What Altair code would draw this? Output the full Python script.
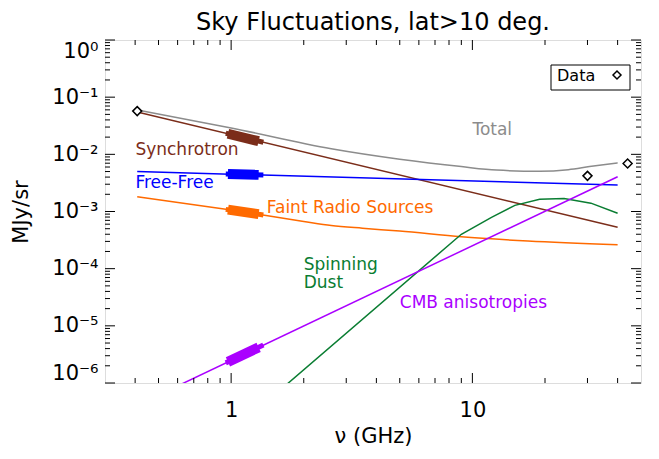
import altair as alt
import pandas as pd

# ---------------- data ----------------
title_text = "Sky Fluctuations, lat>10 deg."

series_names = ["Total", "Synchrotron", "Free-Free", "Faint Radio Sources",
                "Spinning Dust", "CMB anisotropies"]
series_colors = ["#8c8c8c", "#7b2d1a", "#0000ff", "#ff6a00", "#0a7d32", "#aa00ff"]

total_freq = [0.408, 1.0, 2.6, 5.0, 9.0, 12.6, 19.0, 25.0, 30.6, 40.0]
total_val = [0.060, 0.029, 0.0125, 0.0082, 0.0061, 0.0053, 0.00505, 0.0054, 0.0061, 0.0071]

sync_freq = [0.408, 40.0]
sync_val = [0.055, 5.3e-4]

ff_freq = [0.408, 40.0]
ff_val = [5.0e-3, 2.9e-3]

frs_freq = [0.408, 1.0, 2.0, 2.6, 3.5, 5.0, 9.0, 17.0, 40.0]
frs_val = [1.82e-3, 1.06e-3, 6.7e-4, 5.7e-4, 5.1e-4, 4.55e-4, 3.6e-4, 3.05e-4, 2.63e-4]

dust_freq = [1.5, 9.0, 12.0, 15.0, 19.0, 24.0, 31.0, 40.0]
dust_val = [6.0e-7, 4.0e-4, 7.9e-4, 1.28e-3, 1.64e-3, 1.68e-3, 1.40e-3, 9.3e-4]

cmb_freq = [0.408, 40.0]
cmb_val = [4.1e-7, 4.06e-3]

smooth_series = ["Total", "Faint Radio Sources"]

# 1-1.3 GHz band (thick segments) and their thinner tails
band_series = ["Synchrotron", "Free-Free", "Faint Radio Sources", "CMB anisotropies"]
band_freq = [0.97, 1.30]
band_lo = [0.0229, 4.53e-3, 1.08e-3, 2.34e-6]
band_hi = [0.0170, 4.39e-3, 9.0e-4, 4.2e-6]
tail_freq = [0.95, 1.36]
tail_lo = [0.0234, 4.54e-3, 1.09e-3, 2.25e-6]
tail_hi = [0.0163, 4.37e-3, 8.7e-4, 4.6e-6]

data_freq = [0.408, 30.0, 44.0]
data_val = [0.057, 4.2e-3, 6.9e-3]

label_text = ["Synchrotron", "Free-Free", "Faint Radio Sources", "Total",
              "Spinning\nDust", "CMB anisotropies"]
label_series = ["Synchrotron", "Free-Free", "Faint Radio Sources", "Total",
                "Spinning Dust", "CMB anisotropies"]
label_freq = [0.401, 0.401, 1.405, 10.0, 2.0, 5.0]
label_val = [0.0119, 3.11e-3, 1.15e-3, 0.0267, 1.14e-4, 2.5e-5]

x_major = [1, 10]
x_minor = [0.4, 0.5, 0.6, 0.7, 0.8, 0.9, 2, 3, 4, 5, 6, 7, 8, 9, 20, 30, 40]
y_major = [1e-6, 1e-5, 1e-4, 1e-3, 1e-2, 1e-1, 1]
y_minor = [m * d for d in [1e-6, 1e-5, 1e-4, 1e-3, 1e-2, 1e-1] for m in range(2, 10)]

# ---------------- tables ----------------
rows = []
for name, fr, vl in [("Total", total_freq, total_val), ("Synchrotron", sync_freq, sync_val),
                     ("Free-Free", ff_freq, ff_val), ("Faint Radio Sources", frs_freq, frs_val),
                     ("Spinning Dust", dust_freq, dust_val), ("CMB anisotropies", cmb_freq, cmb_val)]:
    for f, v in zip(fr, vl):
        rows.append({"series": name, "freq": f, "val": v})
lines_df = pd.DataFrame(rows)
smooth_df = lines_df[lines_df["series"].isin(smooth_series)]
straight_df = lines_df[~lines_df["series"].isin(smooth_series)]

band_rows, tail_rows = [], []
for i, s in enumerate(band_series):
    band_rows += [{"series": s, "freq": band_freq[0], "val": band_lo[i]},
                  {"series": s, "freq": band_freq[1], "val": band_hi[i]}]
    tail_rows += [{"series": s, "freq": tail_freq[0], "val": tail_lo[i]},
                  {"series": s, "freq": tail_freq[1], "val": tail_hi[i]}]
band_df = pd.DataFrame(band_rows)
tail_df = pd.DataFrame(tail_rows)

data_df = pd.DataFrame({"freq": data_freq, "val": data_val})
label_df = pd.DataFrame({"text": label_text, "series": label_series,
                         "freq": label_freq, "val": label_val})

# ---------------- styling ----------------
FONT = "DejaVu Sans"
W, H = 536, 343
MAJ, MIN = 10, 5

xs = alt.Scale(type="log", domain=[0.3, 50], nice=False)
ys = alt.Scale(type="log", domain=[1e-6, 1], nice=False)
cs = alt.Scale(domain=series_names, range=series_colors)

sup_expr = ("'10' + (datum.value < 0.5 ? '\u207b' : '') + "
            "['\u2070','\u00b9','\u00b2','\u00b3','\u2074','\u2075','\u2076']"
            "[abs(round(log(datum.value)/LN10))]")

ax_x = alt.Axis(orient="bottom", values=x_major, format="~g", ticks=False, tickSize=0,
                grid=False, domain=False,
                labelFont=FONT, labelFontSize=21, labelColor="black", labelPadding=16,
                title="\u03bd (GHz)", titleFont=FONT, titleFontSize=21,
                titleFontWeight="normal", titleColor="black", titlePadding=5)
ax_y = alt.Axis(orient="left", values=y_major, labelExpr=sup_expr, ticks=False, tickSize=0,
                grid=False, domain=False, labelFlush=True,
                labelFont=FONT, labelFontSize=21, labelColor="black", labelPadding=7,
                title="MJy/sr", titleFont=FONT, titleFontSize=21,
                titleFontWeight="normal", titleColor="black", titlePadding=20)


def X(field):
    return alt.X(field, scale=xs, axis=ax_x)


def Y(field):
    return alt.Y(field, scale=ys, axis=ax_y)


color_enc = alt.Color("series:N", scale=cs, legend=None)

lines_smooth = alt.Chart(smooth_df).mark_line(strokeWidth=1.5, clip=True,
                                              interpolate="monotone").encode(
    x=X("freq:Q"), y=Y("val:Q"), color=color_enc, detail="series:N")

lines_straight = alt.Chart(straight_df).mark_line(strokeWidth=1.5, clip=True).encode(
    x=X("freq:Q"), y=Y("val:Q"), color=color_enc, detail="series:N")

tails = alt.Chart(tail_df).mark_line(strokeWidth=5, strokeCap="butt", clip=True).encode(
    x=X("freq:Q"), y=Y("val:Q"), color=color_enc, detail="series:N")

bands = alt.Chart(band_df).mark_line(strokeWidth=10, strokeCap="butt", clip=True).encode(
    x=X("freq:Q"), y=Y("val:Q"), color=color_enc, detail="series:N")

points = alt.Chart(data_df).mark_point(shape="diamond", filled=True, fill="white",
                                        stroke="black", strokeWidth=1.5, size=81,
                                        opacity=1).encode(
    x=X("freq:Q"), y=Y("val:Q"))

labels = alt.Chart(label_df).mark_text(font=FONT, fontSize=17, align="left",
                                       baseline="middle", lineBreak="\n",
                                       lineHeight=17.5).encode(
    x=X("freq:Q"), y=Y("val:Q"), text="text:N", color=color_enc)


# inward-pointing frame ticks, placed through the scales
def x_ticks(vals, y0, y1):
    return alt.Chart(pd.DataFrame({"freq": vals})).mark_rule(color="black", strokeWidth=1).encode(
        x=X("freq:Q"), y=alt.value(y0), y2=alt.value(y1))


def y_ticks(vals, x0, x1):
    return alt.Chart(pd.DataFrame({"val": vals})).mark_rule(color="black", strokeWidth=1).encode(
        y=Y("val:Q"), x=alt.value(x0), x2=alt.value(x1))


tick_layers = [
    x_ticks(x_major, H, H - MAJ), x_ticks(x_minor, H, H - MIN),
    x_ticks(x_major, 0, MAJ), x_ticks(x_minor, 0, MIN),
    y_ticks(y_major, 0, MAJ), y_ticks(y_minor, 0, MIN),
    y_ticks(y_major, W, W - MAJ), y_ticks(y_minor, W, W - MIN),
]

box_df = pd.DataFrame({"t": ["Data"]})
legend_box = alt.Chart(box_df).mark_rect(fill="white", stroke="black", strokeWidth=1).encode(
    x=alt.value(446), x2=alt.value(525), y=alt.value(25), y2=alt.value(50))
legend_text = alt.Chart(box_df).mark_text(font=FONT, fontSize=16, align="left",
                                          baseline="middle", color="black").encode(
    x=alt.value(452), y=alt.value(36), text="t:N")
legend_pt = alt.Chart(box_df).mark_point(shape="diamond", filled=True, fill="white",
                                         stroke="black", strokeWidth=1.5, size=64,
                                         opacity=1).encode(
    x=alt.value(512), y=alt.value(35))

title_df = pd.DataFrame({"t": [title_text]})
title = alt.Chart(title_df).mark_text(font=FONT, fontSize=24, align="center",
                                      baseline="alphabetic", color="black").encode(
    x=alt.value(W / 2), y=alt.value(-10), text="t:N")

chart = alt.layer(lines_smooth, lines_straight, tails, bands, points, labels, *tick_layers,
                  legend_box, legend_text, legend_pt, title).properties(
    width=W, height=H,
    autosize=alt.AutoSizeParams(type="none"),
    padding={"left": 97, "top": 32, "right": 10, "bottom": 76},
).configure_view(stroke="black", strokeWidth=1.5).configure(background="white")

chart.save("out.html", embed_options={"renderer": "svg", "actions": False})
